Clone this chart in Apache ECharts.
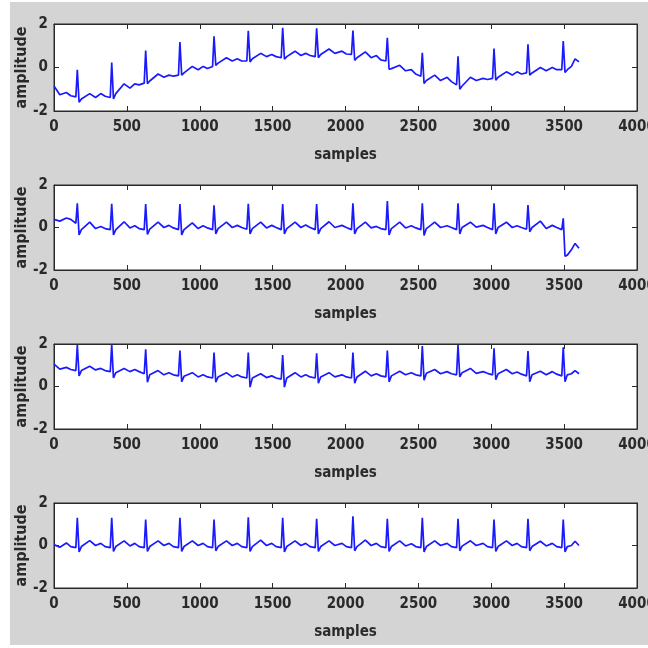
<!DOCTYPE html>
<html>
<head>
<meta charset="utf-8">
<script src="https://cdn.jsdelivr.net/npm/echarts@6/dist/echarts.min.js"></script>
<style>
  html, body { margin: 0; padding: 0; background: #ffffff; }
  #chart { position: absolute; left: 10px; top: 2px; width: 638px; height: 643px; }
</style>
</head>
<body>
<div id="chart"></div>
<script>
// Sample indices shared by the four traces (R peaks at 160, 396, 629, ...)
const samples = [
  0, 40,
  85, 115, 150, 160, 172, 188, 245, 285,
  321, 351, 386, 396, 408, 424, 481, 521,
  554, 584, 619, 629, 641, 657, 714, 754,
  789, 819, 854, 864, 876, 892, 949, 989,
  1023, 1053, 1088, 1098, 1110, 1126, 1183, 1223,
  1258, 1288, 1323, 1333, 1345, 1361, 1418, 1458,
  1494, 1524, 1559, 1569, 1581, 1597, 1654, 1694,
  1727, 1757, 1792, 1802, 1814, 1830, 1887, 1927,
  1976, 2006, 2041, 2051, 2063, 2079, 2136, 2176,
  2212, 2242, 2277, 2287, 2299, 2315, 2372, 2412,
  2452, 2482, 2517, 2527, 2539, 2555, 2612, 2652,
  2697, 2727, 2762, 2772, 2784, 2800, 2857, 2897,
  2944, 2974, 3009, 3019, 3031, 3047, 3104, 3144,
  3177, 3207, 3242, 3252, 3264, 3280, 3337, 3377,
  3419, 3449, 3484, 3494, 3506, 3522, 3550, 3575, 3602
];

const lead1 = [
  -0.85, -1.25,
  -1.15, -1.3, -1.35, -0.1, -1.6, -1.45, -1.2, -1.38,
  -1.2, -1.32, -1.38, 0.23, -1.45, -1.2, -0.75, -0.95,
  -0.75, -0.8, -0.72, 0.78, -0.75, -0.62, -0.3, -0.45,
  -0.35, -0.4, -0.35, 1.17, -0.35, -0.25, 0.05, -0.1,
  0.05, -0.05, 0.05, 1.43, 0.1, 0.2, 0.45, 0.3,
  0.4, 0.3, 0.3, 1.69, 0.25, 0.4, 0.65, 0.5,
  0.6, 0.5, 0.45, 1.82, 0.38, 0.5, 0.75, 0.55,
  0.65, 0.55, 0.5, 1.8, 0.45, 0.6, 0.85, 0.65,
  0.75, 0.62, 0.6, 1.7, 0.33, 0.45, 0.72, 0.45,
  0.55, 0.35, 0.3, 1.37, -0.08, -0.05, 0.1, -0.15,
  -0.1, -0.3, -0.4, 0.68, -0.73, -0.6, -0.35, -0.6,
  -0.45, -0.65, -0.8, 0.52, -1.0, -0.85, -0.45, -0.6,
  -0.5, -0.55, -0.5, 0.87, -0.58, -0.45, -0.2, -0.35,
  -0.2, -0.3, -0.25, 1.07, -0.35, -0.25, 0.0, -0.15,
  0.0, -0.1, -0.1, 1.22, -0.23, -0.1, 0.05, 0.4, 0.26
];

const lead2 = [
  0.38, 0.3,
  0.45, 0.38, 0.2, 1.14, -0.35, -0.1, 0.25, -0.05,
  0.05, -0.05, -0.1, 1.12, -0.35, -0.1, 0.27, -0.02,
  0.08, -0.05, -0.1, 1.1, -0.33, -0.08, 0.25, 0.0,
  0.1, -0.02, -0.1, 1.1, -0.35, -0.1, 0.22, -0.05,
  0.08, -0.02, -0.1, 1.05, -0.3, -0.05, 0.25, 0.0,
  0.1, 0.0, -0.08, 1.12, -0.3, -0.05, 0.25, -0.02,
  0.1, 0.0, -0.1, 1.1, -0.3, -0.05, 0.25, 0.0,
  0.12, 0.0, -0.1, 1.1, -0.3, -0.05, 0.27, 0.0,
  0.1, 0.0, -0.1, 1.14, -0.3, -0.05, 0.25, -0.02,
  0.05, -0.05, -0.1, 1.25, -0.35, -0.05, 0.25, -0.02,
  0.08, -0.02, -0.1, 1.14, -0.38, -0.05, 0.25, 0.0,
  0.08, 0.0, -0.1, 1.14, -0.3, 0.0, 0.25, 0.02,
  0.1, 0.0, -0.1, 1.14, -0.3, 0.0, 0.25, 0.0,
  0.08, 0.0, -0.08, 1.06, -0.2, 0.0, 0.3, -0.05,
  0.1, 0.0, -0.1, 0.43, -1.35, -1.3, -1.05, -0.75, -0.98
];

const lead3 = [
  1.05, 0.82,
  0.9, 0.8, 0.75, 1.95, 0.5, 0.75, 0.95, 0.78,
  0.85, 0.75, 0.7, 1.97, 0.4, 0.65, 0.85, 0.7,
  0.8, 0.7, 0.6, 1.75, 0.2, 0.55, 0.75, 0.55,
  0.65, 0.55, 0.5, 1.69, 0.22, 0.48, 0.65, 0.45,
  0.55, 0.45, 0.4, 1.6, 0.2, 0.45, 0.65, 0.45,
  0.55, 0.45, 0.4, 1.6, -0.03, 0.4, 0.6, 0.42,
  0.5, 0.4, 0.35, 1.48, -0.03, 0.4, 0.65, 0.45,
  0.55, 0.45, 0.4, 1.56, 0.15, 0.45, 0.65, 0.45,
  0.55, 0.45, 0.4, 1.6, 0.15, 0.45, 0.72, 0.5,
  0.6, 0.5, 0.45, 1.69, 0.22, 0.5, 0.72, 0.55,
  0.65, 0.55, 0.5, 1.9, 0.3, 0.62, 0.8, 0.6,
  0.7, 0.6, 0.55, 1.95, 0.45, 0.65, 0.85, 0.62,
  0.7, 0.62, 0.55, 1.8, 0.32, 0.6, 0.8, 0.6,
  0.68, 0.58, 0.5, 1.67, 0.22, 0.55, 0.72, 0.55,
  0.7, 0.58, 0.5, 1.84, 0.22, 0.55, 0.6, 0.75, 0.6
];

const lead4 = [
  0.04, -0.08,
  0.12, -0.05, -0.1, 1.3, -0.3, -0.05, 0.23, 0.0,
  0.1, -0.05, -0.1, 1.3, -0.28, -0.05, 0.22, -0.02,
  0.1, -0.05, -0.1, 1.22, -0.28, -0.05, 0.22, 0.0,
  0.1, -0.05, -0.1, 1.3, -0.28, -0.05, 0.22, 0.0,
  0.1, -0.05, -0.1, 1.22, -0.25, -0.05, 0.22, 0.0,
  0.1, -0.05, -0.1, 1.33, -0.28, -0.05, 0.25, 0.0,
  0.1, -0.05, -0.1, 1.3, -0.3, -0.05, 0.22, 0.0,
  0.1, -0.05, -0.1, 1.26, -0.28, -0.05, 0.22, 0.0,
  0.1, -0.05, -0.1, 1.37, -0.25, -0.05, 0.25, 0.0,
  0.1, -0.05, -0.1, 1.26, -0.28, -0.05, 0.22, -0.02,
  0.08, -0.05, -0.1, 1.3, -0.3, -0.05, 0.22, 0.0,
  0.1, -0.05, -0.1, 1.26, -0.25, -0.03, 0.22, 0.0,
  0.1, -0.05, -0.1, 1.22, -0.28, -0.05, 0.22, 0.0,
  0.1, -0.05, -0.1, 1.26, -0.25, -0.05, 0.2, -0.02,
  0.1, -0.05, -0.1, 1.22, -0.3, -0.05, 0.0, 0.2, 0.0
];

const leads = [lead1, lead2, lead3, lead4];
const xAxisName = 'samples';
const yAxisName = 'amplitude';

const gridTops = [22, 183, 342, 501];
const gridHeights = [87, 85, 85, 85];
const ink = '#2a2a2a';
const narrowFont = "'Liberation Sans Narrow', 'DejaVu Sans Condensed', 'Liberation Sans', sans-serif";
const tickFont = {
  fontFamily: narrowFont, fontWeight: 'bold', fontSize: 15, color: ink,
  formatter: v => String(v)
};

const grid = [], xAxis = [], yAxis = [], series = [];
leads.forEach((vals, i) => {
  grid.push({
    left: 44, width: 583, top: gridTops[i], height: gridHeights[i],
    outerBoundsMode: 'none', containLabel: false,
    show: true, backgroundColor: '#ffffff', borderColor: ink, borderWidth: 1
  });
  xAxis.push({
    gridIndex: i, type: 'value', min: 0, max: 4000, interval: 500, position: 'bottom',
    axisLine: { show: true, onZero: false, lineStyle: { color: ink, width: 1 } },
    axisTick: { show: true, inside: true, length: 5, lineStyle: { color: ink } },
    axisLabel: Object.assign({ margin: 9 }, tickFont),
    splitLine: { show: false },
    name: xAxisName, nameLocation: 'middle', nameGap: 37, nameMoveOverlap: false,
    nameTextStyle: { fontFamily: narrowFont, fontWeight: 'bold', fontSize: 15, color: ink }
  });
  xAxis.push({
    gridIndex: i, type: 'value', min: 0, max: 4000, interval: 500, position: 'top',
    axisLine: { show: true, onZero: false, lineStyle: { color: ink, width: 1 } },
    axisTick: { show: true, inside: true, length: 5, lineStyle: { color: ink } },
    axisLabel: { show: false }, splitLine: { show: false }
  });
  yAxis.push({
    gridIndex: i, type: 'value', min: -2, max: 2, interval: 2, position: 'left',
    axisLine: { show: true, onZero: false, lineStyle: { color: ink, width: 1 } },
    axisTick: { show: true, inside: true, length: 5, lineStyle: { color: ink } },
    axisLabel: Object.assign({ margin: 6 }, tickFont),
    splitLine: { show: false },
    name: yAxisName, nameLocation: 'middle', nameGap: 24, nameMoveOverlap: false,
    nameTextStyle: { fontFamily: narrowFont, fontWeight: 'bold', fontSize: 16, color: ink }
  });
  yAxis.push({
    gridIndex: i, type: 'value', min: -2, max: 2, interval: 2, position: 'right',
    axisLine: { show: true, onZero: false, lineStyle: { color: ink, width: 1 } },
    axisTick: { show: true, inside: true, length: 5, lineStyle: { color: ink } },
    axisLabel: { show: false }, splitLine: { show: false }
  });
  series.push({
    type: 'line', xAxisIndex: 2 * i, yAxisIndex: 2 * i,
    data: samples.map((s, k) => [s, vals[k]]),
    showSymbol: false, clip: true,
    lineStyle: { color: '#1a1aff', width: 1.7 },
    emphasis: { disabled: true }
  });
});

const chart = echarts.init(document.getElementById('chart'), null, { renderer: 'canvas' });
chart.setOption({
  animation: false,
  backgroundColor: '#d4d4d4',
  grid, xAxis, yAxis, series
});
</script>
</body>
</html>
